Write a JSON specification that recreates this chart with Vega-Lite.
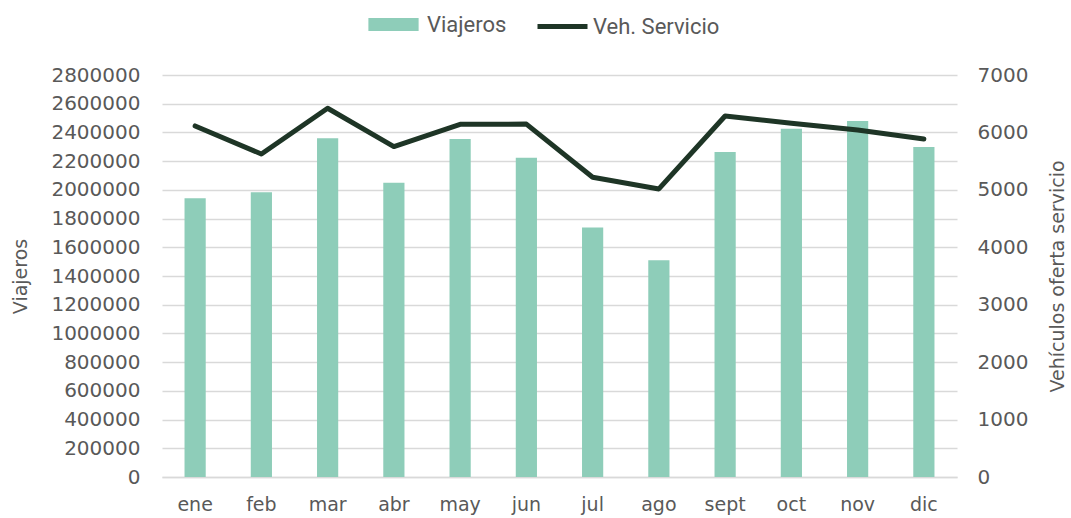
{
  "$schema": "https://vega.github.io/schema/vega-lite/v6.json",
  "width": 795,
  "height": 402,
  "autosize": {"type": "none"},
  "padding": {"left": 162, "top": 75, "right": 114, "bottom": 41},
  "background": "white",
  "config": {
    "view": {"stroke": null},
    "font": "DejaVu Sans",
    "axis": {"labelColor": "#595959", "titleColor": "#595959", "labelFont": "DejaVu Sans", "titleFont": "DejaVu Sans", "labelFontSize": 19, "titleFontSize": 19, "titleFontWeight": "normal", "ticks": false, "domain": false}
  },
  "data": {
    "values": [
      {"mes": "ene", "viajeros": 1942000, "veh": 6113},
      {"mes": "feb", "viajeros": 1984000, "veh": 5625},
      {"mes": "mar", "viajeros": 2359000, "veh": 6421},
      {"mes": "abr", "viajeros": 2050000, "veh": 5753},
      {"mes": "may", "viajeros": 2354000, "veh": 6142},
      {"mes": "jun", "viajeros": 2224000, "veh": 6145},
      {"mes": "jul", "viajeros": 1737000, "veh": 5220},
      {"mes": "ago", "viajeros": 1510000, "veh": 5016},
      {"mes": "sept", "viajeros": 2264000, "veh": 6287},
      {"mes": "oct", "viajeros": 2426000, "veh": 6159},
      {"mes": "nov", "viajeros": 2480000, "veh": 6043},
      {"mes": "dic", "viajeros": 2299000, "veh": 5886}
    ]
  },
  "encoding": {
    "x": {
      "field": "mes", "type": "nominal", "sort": null,
      "scale": {"paddingInner": 0.68, "paddingOuter": 0.34},
      "axis": {"title": null, "labelAngle": 0, "labelPadding": 18, "domain": true, "domainColor": "#D9D9D9", "domainWidth": 1.5, "grid": false}
    }
  },
  "layer": [
    {
      "mark": {"type": "bar", "color": "#8ECDB9"},
      "encoding": {
        "y": {
          "field": "viajeros", "type": "quantitative",
          "scale": {"domain": [0, 2800000], "nice": false},
          "axis": {"title": "Viajeros", "values": [0,200000,400000,600000,800000,1000000,1200000,1400000,1600000,1800000,2000000,2200000,2400000,2600000,2800000], "format": "d", "labelFontSize": 20, "labelPadding": 22, "titlePadding": 20, "grid": true, "gridColor": "#D9D9D9", "gridWidth": 1.5}
        },
        "fill": {
          "datum": "Viajeros",
          "scale": {"range": ["#8ECDB9"]},
          "legend": {"title": null, "orient": "none", "legendX": 216, "legendY": -66, "padding": 0, "symbolType": "M-1.62,-0.42H1.62V0.42H-1.62Z", "symbolSize": 961, "symbolOpacity": 1, "symbolStrokeWidth": 0, "labelOffset": 18, "labelFont": "Roboto", "labelFontSize": 22, "labelColor": "#595959"}
        }
      }
    },
    {
      "mark": {"type": "line", "strokeWidth": 5, "strokeCap": "round", "strokeJoin": "round"},
      "encoding": {
        "y": {
          "field": "veh", "type": "quantitative",
          "scale": {"domain": [0, 7000], "nice": false},
          "axis": {"title": "Vehículos oferta servicio", "orient": "right", "titleAngle": -90, "titleBaseline": "top", "values": [0,1000,2000,3000,4000,5000,6000,7000], "format": "d", "labelFontSize": 20, "labelPadding": 20, "titlePadding": 21, "grid": false}
        },
        "stroke": {
          "datum": "Veh. Servicio",
          "scale": {"range": ["#1E3526"]},
          "legend": {"title": null, "orient": "none", "legendX": 373, "legendY": -76, "padding": 0, "symbolType": "stroke", "symbolSize": 2500, "symbolStrokeWidth": 5, "labelOffset": 3, "labelFont": "Roboto", "labelFontSize": 22, "labelColor": "#595959"}
        }
      }
    }
  ],
  "resolve": {"scale": {"y": "independent"}}
}
